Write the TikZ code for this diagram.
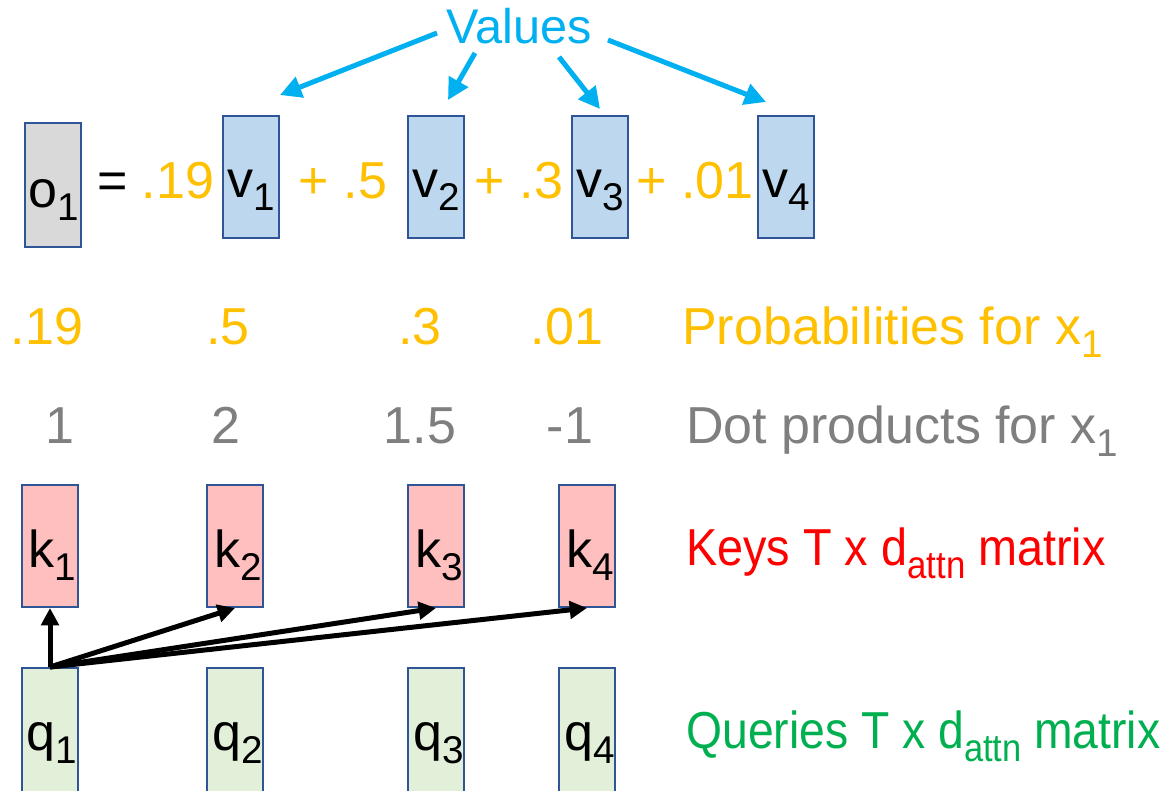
\documentclass[tikz,border=0pt]{standalone}
\usepackage{fontspec}
\setmainfont{Liberation Sans}
\usetikzlibrary{arrows.meta}
\definecolor{cval}{HTML}{00B0F0}
\definecolor{corg}{HTML}{FFC000}
\definecolor{cgray}{HTML}{7F7F7F}
\definecolor{cred}{HTML}{FF0000}
\definecolor{cgrn}{HTML}{00B050}
\definecolor{cbord}{HTML}{2F5597}
\definecolor{vfill}{HTML}{BDD7EE}
\definecolor{kfill}{HTML}{FFBFBF}
\definecolor{qfill}{HTML}{E2F0D9}
\definecolor{ofill}{HTML}{D9D9D9}
\newcommand\lsub[1]{\raisebox{-9.75pt}{\fontsize{29}{29}\selectfont #1}}
\newcommand\bigtxt{\fontsize{39}{40}\selectfont}
\begin{document}
\begin{tikzpicture}[x=0.75pt,y=-0.75pt,
  vecbox/.style={draw=cbord, line width=1.5pt, minimum width=42pt, minimum height=91.5pt, inner sep=0pt},
  lbl/.style={anchor=base, inner sep=0pt, font=\bigtxt},
  side/.style={anchor=base west, inner sep=0pt, font=\bigtxt},
  valarrow/.style={draw=cval, line width=3.75pt, -{Triangle[length=16pt,width=16pt]}},
  qkarrow/.style={draw=black, line width=3.75pt, -{Triangle[length=13pt,width=13pt]}}]
\clip (0,0) rectangle (1172,790);
\fill[white] (0,0) rectangle (1172,790);
% Values
\node[lbl, text=cval, font=\fontsize{36.5}{38}\selectfont] (values) at (519,43) {Values};
\coordinate (s1) at (437,33);
\coordinate (e1) at (280,95);
\coordinate (s2) at (475,53);
\coordinate (e2) at (448,100);
\coordinate (s3) at (559,57);
\coordinate (e3) at (600,109);
\coordinate (s4) at (608,40);
\coordinate (e4) at (766,102);
\draw[valarrow] (s1) -- (e1);
\draw[valarrow] (s2) -- (e2);
\draw[valarrow] (s3) -- (e3);
\draw[valarrow] (s4) -- (e4);
% equation
\node[vecbox, fill=ofill, minimum height=93pt] (o1) at (53,185) {};
\node[lbl] (o1l) at (54,207) {o\lsub{1}};
\node[lbl] (eq) at (113,198) {=};
\node[lbl, text=corg] (c1) at (178,198) {.19};
\node[vecbox, fill=vfill] (v1) at (251,177) {};
\node[lbl] (v1l) at (251,197) {v\lsub{1}};
\node[lbl, text=corg] (c2) at (343,198) {+ .5};
\node[vecbox, fill=vfill] (v2) at (436,177) {};
\node[lbl] (v2l) at (436,197) {v\lsub{2}};
\node[lbl, text=corg] (c3) at (519,198) {+ .3};
\node[vecbox, fill=vfill] (v3) at (600,177) {};
\node[lbl] (v3l) at (600,197) {v\lsub{3}};
\node[lbl, text=corg] (c4) at (695,198) {+ .01};
\node[vecbox, fill=vfill] (v4) at (786,177) {};
\node[lbl] (v4l) at (786,197) {v\lsub{4}};
% probabilities
\node[lbl, text=corg] (p1) at (47,344) {.19};
\node[lbl, text=corg] (p2) at (228,344) {.5};
\node[lbl, text=corg] (p3) at (420,344) {.3};
\node[lbl, text=corg] (p4) at (567,344) {.01};
\node[side, text=corg] (plab) at (682,344) {Probabilities for x\lsub{1}};
% dot products
\node[lbl, text=cgray] (d1) at (60,443) {1};
\node[lbl, text=cgray] (d2) at (226,443) {2};
\node[lbl, text=cgray] (d3) at (420,443) {1.5};
\node[lbl, text=cgray] (d4) at (570,443) {-1};
\node[side, text=cgray] (dlab) at (686,443) {Dot products for x\lsub{1}};
% keys
\node[vecbox, fill=kfill] (k1) at (50,546) {};
\node[lbl] (k1l) at (52,567) {k\lsub{1}};
\node[vecbox, fill=kfill] (k2) at (235,546) {};
\node[lbl] (k2l) at (238,567) {k\lsub{2}};
\node[vecbox, fill=kfill] (k3) at (436,546) {};
\node[lbl] (k3l) at (439,567) {k\lsub{3}};
\node[vecbox, fill=kfill] (k4) at (587,546) {};
\node[lbl] (k4l) at (590,567) {k\lsub{4}};
\node[side, text=cred] (klab) at (686,565) {\scalebox{0.9}[1]{Keys T x d\lsub{attn} matrix}};
% queries
\node[vecbox, fill=qfill, minimum height=108pt] (q1) at (50,740) {};
\node[lbl] (q1l) at (52,750) {q\lsub{1}};
\node[vecbox, fill=qfill, minimum height=108pt] (q2) at (235,740) {};
\node[lbl] (q2l) at (238,750) {q\lsub{2}};
\node[vecbox, fill=qfill, minimum height=108pt] (q3) at (436,740) {};
\node[lbl] (q3l) at (439,750) {q\lsub{3}};
\node[vecbox, fill=qfill, minimum height=108pt] (q4) at (587,740) {};
\node[lbl] (q4l) at (590,750) {q\lsub{4}};
\node[side, text=cgrn] (qlab) at (686,748) {\scalebox{0.89}[1]{Queries T x d\lsub{attn} matrix}};
% q1 -> keys
\draw[qkarrow] (q1.north) -- (k1.south);
\draw[qkarrow] (q1.north) -- (k2.south);
\draw[qkarrow] (q1.north) -- (k3.south);
\draw[qkarrow] (q1.north) -- (k4.south);
\end{tikzpicture}
\end{document}
